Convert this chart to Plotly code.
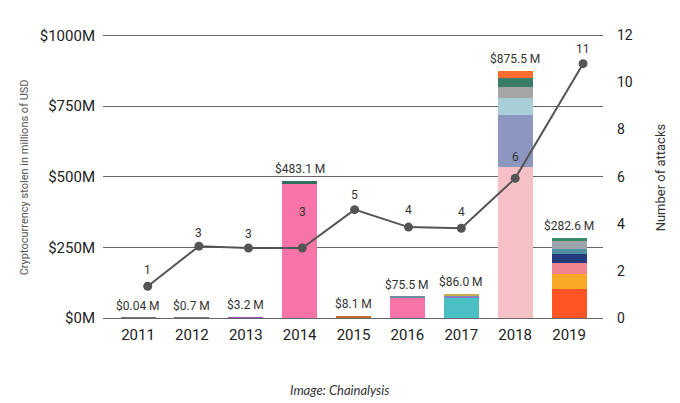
import plotly.graph_objects as go

years = ["2011", "2012", "2013", "2014", "2015", "2016", "2017", "2018", "2019"]
totals = ["$0.04 M", "$0.7 M", "$3.2 M", "$483.1 M", "$8.1 M", "$75.5 M", "$86.0 M", "$875.5 M", "$282.6 M"]

# stolen amounts per year, segments from bottom to top (millions USD)
v2011 = [0.04]
v2012 = [0.7]
v2013 = [3.2]
v2014 = [474.0, 9.1]
v2015 = [8.1]
v2016 = [72.0, 3.5]
v2017 = [70.0, 8.0, 3.0, 5.0]
v2018 = [534.0, 183.0, 60.0, 40.0, 33.0, 25.5]
v2019 = [103.0, 51.0, 40.0, 31.0, 19.5, 28.0, 10.1]

# number of attacks (labels) and where the points sit on the picture
attacks = [1, 3, 3, 3, 5, 4, 4, 6, 11]
attack_y = [1.35, 3.05, 2.97, 2.97, 4.6, 3.86, 3.81, 5.93, 10.8]
attack_x = [0.18, 1.13, 2.05, 3.05, 4.02, 5.02, 6.0, 7.0, 8.26]

c2011 = ["#777"]
c2012 = ["#777"]
c2013 = ["#9b59b6"]
c2014 = ["#f774a8", "#2f6f5e"]
c2015 = ["#c96d2c"]
c2016 = ["#f774a8", "#6a8ea0"]
c2017 = ["#4bbfc4", "#8a7fc6", "#e25a6a", "#c8ad4d"]
c2018 = ["#f5c1c7", "#8d96bf", "#a8cfd8", "#a5a5a8", "#3b7c68", "#ff6d2e"]
c2019 = ["#ff5524", "#f9a826", "#f08390", "#263b7d", "#4f92a3", "#9fa5aa", "#3a8a6c"]

# how far (px) each count label sits above its point
label_shift = [16, 13, 14, 36, 15, 17, 16, 21, 15]

vals = [v2011, v2012, v2013, v2014, v2015, v2016, v2017, v2018, v2019]
cols = [c2011, c2012, c2013, c2014, c2015, c2016, c2017, c2018, c2019]
xs = list(range(len(years)))

fig = go.Figure()

nlayers = max(len(v) for v in vals)
for k in range(nlayers):
    fig.add_trace(go.Bar(
        x=xs,
        y=[v[k] if k < len(v) else 0 for v in vals],
        marker=dict(color=[c[k] if k < len(c) else "rgba(0,0,0,0)" for c in cols], line_width=0),
        width=0.65,
        showlegend=False,
        hoverinfo="skip",
    ))

# value labels above the bars
for i, t in enumerate(totals):
    fig.add_annotation(x=i, y=sum(vals[i]), text=t, showarrow=False,
                       yanchor="bottom", yshift=3,
                       font=dict(family="Roboto", size=12, color="#333"))

fig.add_trace(go.Scatter(
    x=attack_x, y=attack_y, yaxis="y2",
    mode="lines+markers",
    line=dict(color="#555", width=2),
    marker=dict(color="#555", size=9),
    showlegend=False,
))

for xv, yv, a, s in zip(attack_x, attack_y, attacks, label_shift):
    fig.add_annotation(x=xv, y=yv, yref="y2", text=str(a), showarrow=False,
                       yanchor="middle", yshift=s,
                       font=dict(family="Roboto", size=12, color="#333"))

# page body has an 8px margin, so the figure is 8px smaller than the window
fig.update_layout(
    width=672, height=395,
    margin=dict(l=95, r=77, t=24, b=85),
    paper_bgcolor="white", plot_bgcolor="white",
    barmode="stack", bargap=0.35,
    font=dict(family="Roboto", color="#222"),
    xaxis=dict(range=[-0.65, 8.63], tickmode="array", tickvals=xs, ticktext=years,
               showgrid=False, zeroline=False, showline=False,
               tickfont=dict(size=15, color="#222"), ticklabelstandoff=6),
    yaxis=dict(range=[0, 1012], tickmode="array", tickvals=[0, 250, 500, 750, 1000],
               ticktext=["$0M", "$250M", "$500M", "$750M", "$1000M"],
               showgrid=True, gridcolor="#666", gridwidth=1.3,
               zeroline=True, zerolinecolor="#666", zerolinewidth=1.3,
               tickfont=dict(size=15, color="#222"), ticklabelstandoff=7),
    yaxis2=dict(range=[0, 12.144], tickmode="array", tickvals=[0, 2, 4, 6, 8, 10, 12],
                overlaying="y", side="right",
                showgrid=False, zeroline=False,
                tickfont=dict(size=14, color="#222"), ticklabelstandoff=13),
)

fig.add_annotation(xref="paper", yref="paper", x=-0.174, y=0.49, textangle=-90,
                   text="Cryptocurrency stolen in millions of USD", showarrow=False,
                   font=dict(family="Roboto", size=11, color="#555"))
fig.add_annotation(xref="paper", yref="paper", x=1.134, y=0.49, textangle=-90,
                   text="Number of attacks", showarrow=False,
                   font=dict(family="Roboto", size=13, color="#333"))
fig.add_annotation(xref="paper", yref="paper", x=0.474, y=-0.287,
                   text="<i>Image: Chainalysis</i>", showarrow=False,
                   font=dict(family="Lato", size=13, color="#333"))

fig.write_html("out.html")
